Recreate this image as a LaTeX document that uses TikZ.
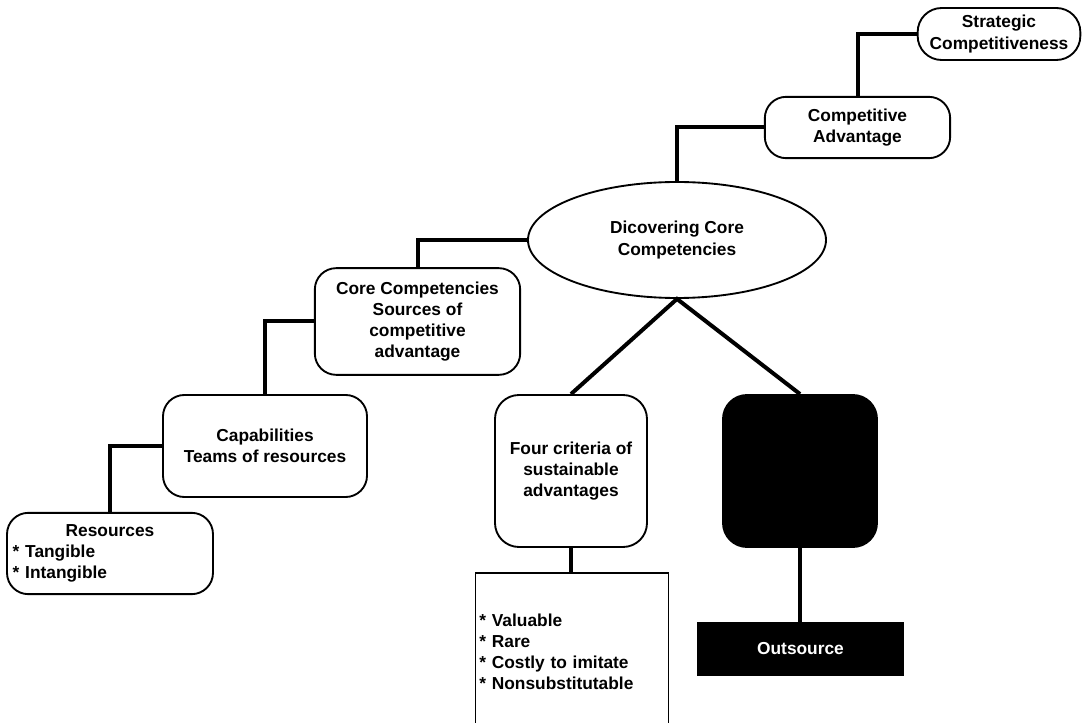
\documentclass[tikz,border=0pt]{standalone}
\usepackage{fontspec}
\setmainfont{Liberation Sans}
\usetikzlibrary{shapes.geometric}
\begin{document}
\begin{tikzpicture}[x=0.75pt,y=-0.75pt,
  font=\bfseries\fontsize{13}{15.8}\selectfont,
  box/.style={draw, line width=1.4pt, rounded corners=16pt, align=center, inner sep=2pt},
  conn/.style={line width=3pt}]
\useasboundingbox (0,0) rectangle (1082,723);
\node[box, rounded corners=18pt, minimum width=122pt, minimum height=39pt] (sc) at (999,34) {Strategic\\Competitiveness};
\node[box, minimum width=139pt, minimum height=46pt] (ca) at (857.5,127.5) {Competitive\\Advantage};
\node[draw, ellipse, line width=1.4pt, minimum width=223.5pt, minimum height=87pt, inner sep=0pt, align=center] (ell) at (677,240) {Dicovering Core\\Competencies};
\node[box, minimum width=154pt, minimum height=80pt] (core) at (417.5,321.5) {Core Competencies\\Sources of\\competitive\\advantage};
\node[box, minimum width=153pt, minimum height=76.5pt] (cap) at (265,446) {Capabilities\\Teams of resources};
\node[box, minimum width=154.5pt, minimum height=61pt, text width=146pt, align=left, inner sep=4pt] (res) at (110,553.5) {\centering Resources\par\raggedright{*} Tangible\\{*} Intangible};
\node[box, rounded corners=18pt, minimum width=114pt, minimum height=114pt] (four) at (571,471) {Four criteria of\\sustainable\\advantages};
\node[box, rounded corners=18pt, fill=black, minimum width=115.5pt, minimum height=114pt] (blk) at (800,471) {};
\node[draw, line width=1pt, text width=139pt, inner sep=3pt, minimum height=117.75pt, align=left] (list) at (572,651.5) {{*} Valuable\\{*} Rare\\{*} Costly to imitate\\{*} Nonsubstitutable};
\node[draw, fill=black, text=white, line width=1pt, minimum width=154pt, minimum height=39pt] (out) at (800.5,649) {Outsource};
\draw[conn] (sc.west) -| (ca.north);
\draw[conn] (ca.west) -| (ell.north);
\draw[conn] (ell.west) -| (core.north);
\draw[conn] (core.west) -| (cap.north);
\draw[conn] (cap.west) -| (res.north);
\draw[conn, line join=miter] (four.north) -- (ell.south) -- (blk.north);
\draw[conn] (four.south) -- (four.south |- list.north);
\draw[conn] (blk.south) -- (blk.south |- out.north);
\end{tikzpicture}
\end{document}
